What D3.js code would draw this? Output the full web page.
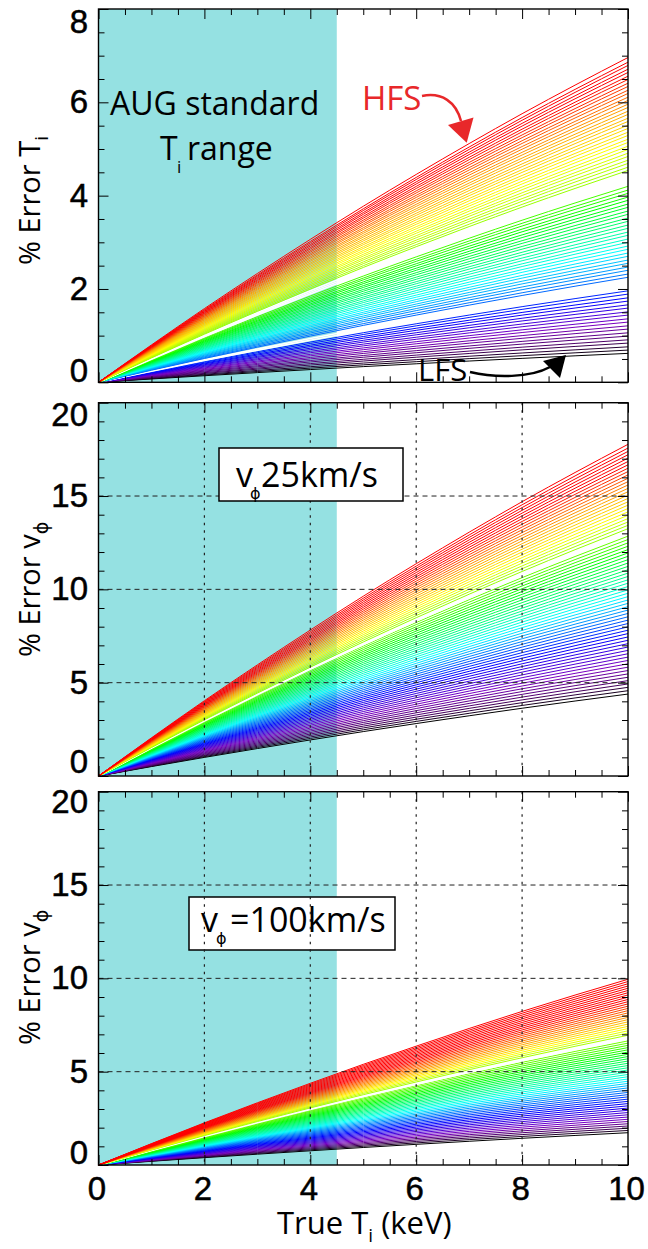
<!DOCTYPE html>
<html><head><meta charset="utf-8">
<script src="https://cdn.jsdelivr.net/npm/d3@7"></script>
<style>body{margin:0;background:#fff} svg{display:block}</style>
</head><body><svg id="c" width="648" height="1249"></svg>
<script>
// ---------------- DATA ----------------
// shared shape of every curve: fraction of its value at 10 keV
const profileT = [0, 1, 2, 3, 4, 5, 6, 7, 8, 9, 10];
const profileFrac = [0, 0.115, 0.227, 0.335, 0.44, 0.542, 0.64, 0.735, 0.827, 0.915, 1.0];

// % error at 10 keV for each line (bottom black -> top red)
const endsTi = [0.62,0.69,0.76,0.84,0.91,0.99,1.06,1.14,1.21,1.29,1.36,1.44,1.51,1.59,1.66,1.74,1.81,1.89,1.96,
  2.25,2.32,2.40,2.47,2.55,2.62,2.70,2.77,2.85,2.92,3.00,3.07,3.15,3.22,3.30,3.37,3.45,3.52,3.60,3.67,3.75,3.82,3.90,3.97,4.05,4.12,4.20,
  4.54,4.61,4.69,4.76,4.84,4.91,4.99,5.06,5.14,5.21,5.29,5.36,5.44,5.51,5.59,5.66,5.74,5.81,5.89,5.96,6.04,6.11,6.19,6.26,6.34,6.41,6.49,6.56,6.64,6.71,6.79,6.86,6.96];
const whiteTi = [2.05, 2.13, 4.30, 4.38, 4.46];

const endsV25 = [4.39,4.57,4.75,4.93,5.11,5.29,5.47,5.65,5.83,6.01,6.19,6.37,6.55,6.73,6.91,7.09,7.27,7.45,7.63,7.81,7.99,8.17,8.35,8.53,8.71,8.89,9.07,9.25,9.43,9.61,9.79,9.97,10.15,10.33,10.51,10.69,10.87,11.05,11.23,11.41,11.59,11.77,11.95,12.13,12.31,12.49,12.67,12.85,
  13.25,13.43,13.61,13.79,13.97,14.15,14.33,14.51,14.69,14.87,15.05,15.23,15.41,15.59,15.77,15.95,16.13,16.31,16.49,16.67,16.85,17.03,17.21,17.39,17.57,17.77];
const whiteV25 = [12.98, 13.12];

const endsV100 = [1.73,1.85,1.97,2.09,2.21,2.33,2.45,2.57,2.69,2.81,2.93,3.05,3.17,3.29,3.41,3.53,3.65,3.77,3.89,4.01,4.13,4.25,4.37,4.49,4.61,4.73,4.85,4.97,5.09,5.21,5.33,5.45,5.57,5.69,5.81,5.93,6.05,6.17,6.29,6.41,6.53,6.65,
  6.95,7.07,7.19,7.31,7.43,7.55,7.67,7.79,7.91,8.03,8.15,8.27,8.39,8.51,8.63,8.75,8.87,8.99,9.11,9.23,9.35,9.47,9.59,9.71,9.83,9.95];
const whiteV100 = [6.75, 6.85];

const xTicks = [0, 2, 4, 6, 8, 10];
const yTicksTi = [0, 2, 4, 6, 8];
const yTicksV = [0, 5, 10, 15, 20];
const gridX = [2, 4, 6, 8];
const gridY = [5, 10, 15];
const shadeRange = [0, 4.5];

// rainbow stops (black -> purple -> blue -> cyan -> green -> yellow -> red)
const stopColors = ["#000000","#4c0066","#7a00c0","#0000ff","#0080ff","#00ffff","#00ff00","#a8ff00","#ffff00","#ffa000","#ff0000"];
const anchorsTi = [0.62, 0.9, 1.3, 1.8, 2.35, 2.85, 3.9, 4.6, 5.15, 5.9, 6.6];
const anchorsV25 = [4.39, 5.0, 6.0, 7.6, 8.7, 9.65, 12.0, 13.4, 14.1, 15.3, 16.7];
const anchorsV100 = [1.73, 2.05, 2.4, 3.3, 4.0, 4.55, 6.0, 6.95, 7.3, 7.85, 8.8];

// ---------------- LAYOUT ----------------
const svg = d3.select("#c");
const x = d3.scaleLinear().domain([0, 10]).range([98.5, 628]);
const TICKFONT = "'Liberation Sans', Arial, sans-serif";
const TXTFONT = "'Open Sans', sans-serif";

const panels = [
  {top: 9, bottom: 382.3, yMax: 8, ticks: yTicksTi, minorStep: 0.5, ends: endsTi, whites: whiteTi, anchors: anchorsTi,
   grid: false, topShift: 13, botShift: -11.5, xLabels: false, titleY: 265, titleMain: "% Error T", titleSub: "i", subGreek: false},
  {top: 402.7, bottom: 776, yMax: 20, ticks: yTicksV, minorStep: 1, ends: endsV25, whites: whiteV25, anchors: anchorsV25,
   grid: true, topShift: 12, botShift: -14, xLabels: false, titleY: 657, titleMain: "% Error v", titleSub: "ϕ", subGreek: true},
  {top: 791.7, bottom: 1165, yMax: 20, ticks: yTicksV, minorStep: 1, ends: endsV100, whites: whiteV100, anchors: anchorsV100,
   grid: true, topShift: 10, botShift: -12.5, xLabels: true, titleY: 1045, titleMain: "% Error v", titleSub: "ϕ", subGreek: true}
];

function styleTicks(sel) {
  sel.select(".domain").remove();
  sel.selectAll("line").attr("stroke", "#000").attr("stroke-width", 1);
  sel.selectAll("text").attr("font-family", TICKFONT).attr("font-size", 33).attr("fill", "#000")
    .attr("stroke", "#000").attr("stroke-width", 0.5);
  sel.attr("font-family", null).attr("font-size", null);
}

function drawBox(g, b) {
  g.append("rect").attr("x", b.x0).attr("y", b.y0).attr("width", b.x1 - b.x0).attr("height", b.y1 - b.y0)
    .attr("fill", "#fff").attr("stroke", "#000").attr("stroke-width", 1.5);
  g.append("text").attr("x", b.vx).attr("y", b.base).attr("font-family", TXTFONT).attr("font-size", 34).text("v");
  g.append("text").attr("x", b.phx).attr("y", b.base + 12).attr("font-family", "'DejaVu Sans', sans-serif").attr("font-size", 16).text("ϕ");
  g.append("text").attr("x", b.tx).attr("y", b.base).attr("font-family", TXTFONT).attr("font-size", 34).text(b.rest);
}

const boxes = [null,
  {x0: 219, y0: 448, x1: 403, y1: 501, vx: 236, phx: 250, tx: 261, base: 486.7, rest: "25km/s", afterGrid: true},
  {x0: 189, y0: 897, x1: 395, y1: 950, vx: 201, phx: 216, tx: 230, base: 931.7, rest: "=100km/s", afterGrid: false}];

panels.forEach((p, pi) => {
  const y = d3.scaleLinear().domain([0, p.yMax]).range([p.bottom, p.top]);
  const g = svg.append("g");

  // shaded standard range
  g.append("rect").attr("x", x(shadeRange[0])).attr("y", p.top)
    .attr("width", x(shadeRange[1]) - x(shadeRange[0])).attr("height", p.bottom - p.top)
    .attr("fill", "#95e1e2");

  // curves
  const color = d3.scaleLinear().domain(p.anchors).range(stopColors).clamp(true);
  const lineGen = d3.line().x((d, i) => x(profileT[i])).y(d => y(d)).curve(d3.curveMonotoneX);
  const all = p.ends.map(e => ({e, c: color(e), w: false}))
    .concat(p.whites.map(e => ({e, c: "#ffffff", w: true})))
    .sort((a, b) => a.e - b.e);
  g.append("g").selectAll("path").data(all).join("path")
    .attr("d", d => lineGen(profileFrac.map(f => d.e * f)))
    .attr("fill", "none").attr("stroke", d => d.c).attr("stroke-width", d => d.w ? 1.6 : 1);

  const box = boxes[pi];
  if (box && !box.afterGrid) drawBox(g, box);

  if (p.grid) {
    g.append("g").selectAll("line").data(gridY).join("line")
      .attr("x1", x(0)).attr("x2", x(10)).attr("y1", d => y(d)).attr("y2", d => y(d))
      .attr("stroke", "#222").attr("stroke-width", 1).attr("stroke-dasharray", "5,4");
    g.append("g").selectAll("line").data(gridX).join("line")
      .attr("x1", d => x(d)).attr("x2", d => x(d)).attr("y1", p.top).attr("y2", p.bottom)
      .attr("stroke", "#222").attr("stroke-width", 1.2).attr("stroke-dasharray", "2.5,5");
  }
  if (box && box.afterGrid) drawBox(g, box);

  // axes, ticks inward on all four sides
  const yMinor = d3.range(0, p.yMax + 1e-9, p.minorStep).filter(v => !p.ticks.includes(v));
  const xMinor = d3.range(0, 10 + 1e-9, 0.5).filter(v => !xTicks.includes(v));
  const L = x(0), R = x(10);

  g.append("g").attr("transform", `translate(${L},0)`)
    .call(d3.axisLeft(y).tickValues(p.ticks).tickSizeInner(-10).tickSizeOuter(0).tickPadding(10.5).tickFormat(d3.format("d")))
    .call(styleTicks)
    .call(s => s.selectAll(".tick text").attr("y", d => d === p.yMax ? p.topShift : (d === 0 ? p.botShift : 0)));
  g.append("g").attr("transform", `translate(${L},0)`)
    .call(d3.axisLeft(y).tickValues(yMinor).tickSizeInner(-6).tickSizeOuter(0).tickFormat("")).call(styleTicks);
  g.append("g").attr("transform", `translate(${R},0)`)
    .call(d3.axisRight(y).tickValues(p.ticks).tickSizeInner(-10).tickSizeOuter(0).tickFormat("")).call(styleTicks);
  g.append("g").attr("transform", `translate(${R},0)`)
    .call(d3.axisRight(y).tickValues(yMinor).tickSizeInner(-6).tickSizeOuter(0).tickFormat("")).call(styleTicks);

  g.append("g").attr("transform", `translate(0,${p.bottom})`)
    .call(d3.axisBottom(x).tickValues(xTicks).tickSizeInner(-10).tickSizeOuter(0).tickPadding(12)
      .tickFormat(p.xLabels ? d3.format("d") : ""))
    .call(styleTicks)
    .call(s => s.selectAll(".tick text").attr("dx", -2));
  g.append("g").attr("transform", `translate(0,${p.bottom})`)
    .call(d3.axisBottom(x).tickValues(xMinor).tickSizeInner(-6).tickSizeOuter(0).tickFormat("")).call(styleTicks);
  g.append("g").attr("transform", `translate(0,${p.top})`)
    .call(d3.axisTop(x).tickValues(xTicks).tickSizeInner(-10).tickSizeOuter(0).tickFormat("")).call(styleTicks);
  g.append("g").attr("transform", `translate(0,${p.top})`)
    .call(d3.axisTop(x).tickValues(xMinor).tickSizeInner(-6).tickSizeOuter(0).tickFormat("")).call(styleTicks);

  // frame
  g.append("rect").attr("x", L).attr("y", p.top).attr("width", R - L).attr("height", p.bottom - p.top)
    .attr("fill", "none").attr("stroke", "#000").attr("stroke-width", 1.4);

  // y title
  const t = g.append("text").attr("transform", `translate(40,${p.titleY}) rotate(-90)`)
    .attr("font-family", TXTFONT).attr("font-size", 29).attr("fill", "#000");
  t.append("tspan").text(p.titleMain);
  t.append("tspan").attr("dy", 8).attr("font-size", 19)
    .attr("font-family", p.subGreek ? "'DejaVu Sans', sans-serif" : TXTFONT).text(p.titleSub);
});

// x title
const xt = svg.append("text").attr("x", 277).attr("y", 1234).attr("font-family", TXTFONT).attr("font-size", 31).attr("fill", "#000");
xt.append("tspan").text("True T");
xt.append("tspan").attr("dy", 8).attr("font-size", 19).text("i");
xt.append("tspan").attr("dy", -8).text(" (keV)");

// annotations in top panel
svg.append("text").attr("x", 110).attr("y", 114.5).attr("font-family", TXTFONT).attr("font-size", 32).text("AUG standard");
svg.append("text").attr("x", 160).attr("y", 160).attr("font-family", TXTFONT).attr("font-size", 32).text("T");
svg.append("text").attr("x", 177).attr("y", 173).attr("font-family", TXTFONT).attr("font-size", 17).text("i");
svg.append("text").attr("x", 187).attr("y", 160).attr("font-family", TXTFONT).attr("font-size", 32).text("range");

svg.append("text").attr("x", 362).attr("y", 110).attr("font-family", TXTFONT).attr("font-size", 33).attr("fill", "#e8282a").text("HFS");
svg.append("path").attr("d", "M422,96 C442,92 456,102 461,121").attr("fill", "none").attr("stroke", "#e8282a").attr("stroke-width", 2.5);
svg.append("polygon").attr("points", "448,125 473.5,117.5 466.7,142.7").attr("fill", "#e8282a");

svg.append("text").attr("x", 418).attr("y", 381).attr("font-family", TXTFONT).attr("font-size", 31).attr("fill", "#000").text("LFS");
svg.append("path").attr("d", "M470,372 C495,378 530,378 550,367").attr("fill", "none").attr("stroke", "#000").attr("stroke-width", 2.5);
svg.append("polygon").attr("points", "543,361 560,378 566,355").attr("fill", "#000");
</script>
</body></html>
